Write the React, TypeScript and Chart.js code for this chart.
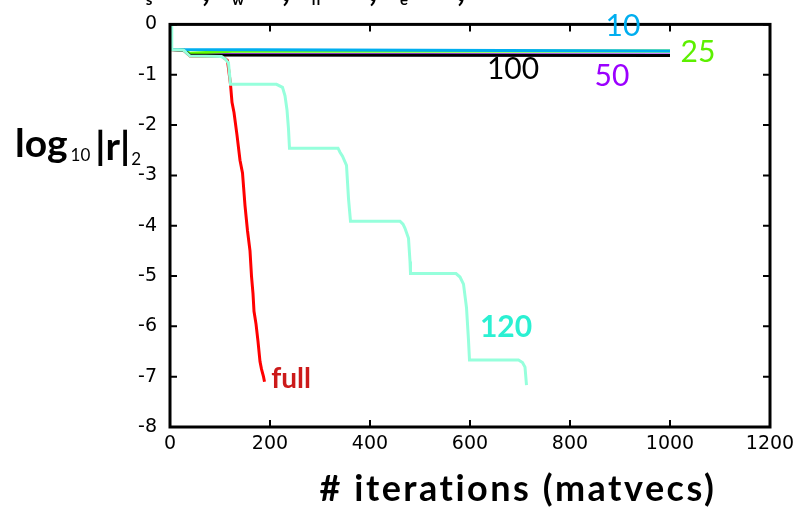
import React, { useEffect, useRef } from "react";
import { Chart, registerables } from "chart.js";
Chart.register(...registerables);

// ---- axis ticks ----
const xTicks = [0, 200, 400, 600, 800, 1000, 1200];
const yTicks = [0, -1, -2, -3, -4, -5, -6, -7, -8];

// ---- series (iterations / log10 residual) ----
const iter10 = [0, 3, 1000];
const res10 = [0, -0.5, -0.53];

const iter25 = [0, 3, 27, 40, 125, 1000];
const res25 = [0, -0.5, -0.51, -0.575, -0.535, -0.53];

const iter50 = [0, 3, 27, 40, 1000];
const res50 = [0, -0.5, -0.51, -0.6, -0.61];

const iter100 = [0, 3, 27, 40, 1000];
const res100 = [0, -0.5, -0.51, -0.61, -0.62];

const iter120 = [
  3, 3.5, 27, 40, 103, 110, 117, 121, 213, 225, 230, 234, 237, 239, 336, 340, 345, 353, 357, 361,
  460, 466, 470, 477, 480, 481, 572, 580, 587, 593, 597, 599, 697, 705, 710, 713,
];
const res120 = [
  0, -0.5, -0.51, -0.63, -0.64, -0.68, -0.77, -1.19, -1.19, -1.25, -1.42, -1.7, -2.08, -2.46, -2.46,
  -2.54, -2.62, -2.8, -3.46, -3.91, -3.91, -3.97, -4.05, -4.25, -4.71, -4.95, -4.95, -5.02, -5.16,
  -5.63, -6.28, -6.67, -6.67, -6.72, -6.81, -7.17,
];

const iterFull = [
  0, 3, 27, 40, 105, 115, 121, 124, 128, 134, 140, 145, 150, 155, 160, 163, 166, 168, 172, 176, 180,
  183, 187, 189,
];
const resFull = [
  0, -0.5, -0.51, -0.63, -0.64, -0.72, -1.19, -1.55, -1.75, -2.2, -2.7, -2.95, -3.6, -4.1, -4.5,
  -5.0, -5.35, -5.7, -5.95, -6.3, -6.7, -6.85, -7.0, -7.1,
];

// ---- curve labels ----
const labelTexts = ["10", "25", "100", "50", "120", "full"];
const labelIters = [906, 1056, 686, 884, 672, 242];
const labelRes = [-0.03, -0.55, -0.89, -1.04, -6.01, -7.05];
const labelColors = ["#00AEEF", "#5CF000", "#000000", "#9B00FF", "#2BF0D2", "#CC1A1A"];
const labelWeights = ["normal", "normal", "normal", "normal", "bold", "bold"];

const FONT = "Lato";
const TICK_FONT = "DejaVu Sans";

function pts(xs: number[], ys: number[]) {
  return xs.map((x, i) => ({ x, y: ys[i] }));
}

const framePlugin = {
  id: "frame",
  afterDatasetsDraw(chart: any) {
    const { ctx, chartArea: a, scales } = chart;
    const xs = scales.x;
    const ys = scales.y;
    ctx.save();
    ctx.strokeStyle = "#000";
    ctx.lineWidth = 2;
    const tl = 7;
    for (const v of xTicks) {
      const px = xs.getPixelForValue(v);
      ctx.beginPath();
      ctx.moveTo(px, a.bottom);
      ctx.lineTo(px, a.bottom - tl);
      ctx.moveTo(px, a.top);
      ctx.lineTo(px, a.top + tl);
      ctx.stroke();
    }
    for (const v of yTicks) {
      const py = ys.getPixelForValue(v);
      ctx.beginPath();
      ctx.moveTo(a.left, py);
      ctx.lineTo(a.left + tl, py);
      ctx.moveTo(a.right, py);
      ctx.lineTo(a.right - tl, py);
      ctx.stroke();
    }
    ctx.lineWidth = 3;
    ctx.strokeRect(a.left, a.top, a.right - a.left, a.bottom - a.top);

    // curve labels
    ctx.textAlign = "center";
    ctx.textBaseline = "middle";
    labelTexts.forEach((t, i) => {
      ctx.font = `${labelWeights[i]} ${t === "full" ? 28 : 30}px ${FONT}`;
      ctx.fillStyle = labelColors[i];
      ctx.fillText(t, xs.getPixelForValue(labelIters[i]), ys.getPixelForValue(labelRes[i]));
    });

    // x axis title
    ctx.fillStyle = "#000";
    ctx.font = `bold 36px ${FONT}`;
    ctx.textBaseline = "alphabetic";
    try {
      (ctx as any).letterSpacing = "2.5px";
    } catch (e) {}
    ctx.fillText("# iterations (matvecs)", 518, 501);
    try {
      (ctx as any).letterSpacing = "0px";
    } catch (e) {}

    // y axis title: log10|r|2
    ctx.textAlign = "left";
    let x = 15;
    ctx.font = `bold 39px ${FONT}`;
    ctx.fillText("log", x, 157);
    x += ctx.measureText("log").width + 3;
    ctx.font = `normal 17px ${FONT}`;
    ctx.fillText("10", x, 161);
    x += ctx.measureText("10").width + 5;
    ctx.font = `bold 39px ${FONT}`;
    ctx.fillText("|r|", x, 160);
    x += ctx.measureText("|r|").width + 1;
    ctx.font = `normal 17px ${FONT}`;
    ctx.fillText("2", x, 165);

    // clipped title fragments at the very top
    ctx.font = `bold 15px ${FONT}`;
    ctx.textAlign = "center";
    ctx.fillText("s", 149, 5);
    ctx.fillText("w", 238, 5);
    ctx.fillText("n", 316, 5);
    ctx.fillText("e", 404, 5);
    ctx.font = `bold 36px ${FONT}`;
    for (const cx of [206, 286, 373, 461]) ctx.fillText(",", cx, 1);
    ctx.restore();
  },
};

export default function App() {
  const ref = useRef<HTMLCanvasElement>(null);
  useEffect(() => {
    document.body.style.margin = "0";
    const ctx = ref.current!.getContext("2d")!;
    const common = { pointRadius: 0, borderWidth: 3, tension: 0, fill: false };
    const chart = new Chart(ctx, {
      type: "line",
      data: {
        datasets: [
          { ...common, label: "120", data: pts(iter120, res120), borderColor: "#96FFDC", order: 1 },
          { ...common, label: "10", data: pts(iter10, res10), borderColor: "#00AEEF", order: 2 },
          { ...common, label: "100", data: pts(iter100, res100), borderColor: "#000000", order: 3 },
          { ...common, label: "25", data: pts(iter25, res25), borderColor: "#66FF00", order: 4 },
          { ...common, label: "50", data: pts(iter50, res50), borderColor: "#9B00FF", order: 5 },
          { ...common, label: "full", data: pts(iterFull, resFull), borderColor: "#FF0000", order: 6 },
        ],
      },
      options: {
        responsive: false,
        animation: false,
        events: [],
        layout: { padding: { top: 21, right: 41, left: 0, bottom: 0 } },
        plugins: { legend: { display: false }, tooltip: { enabled: false }, title: { display: false } },
        scales: {
          x: {
            type: "linear",
            min: 0,
            max: 1200,
            grid: { display: false, drawTicks: false },
            border: { display: false },
            afterFit: (s: any) => {
              s.height = 83;
            },
            afterBuildTicks: (s: any) => {
              s.ticks = xTicks.map((v) => ({ value: v }));
            },
            ticks: {
              color: "#000",
              font: { family: TICK_FONT, size: 19 },
              padding: 6,
              maxRotation: 0,
              autoSkip: false,
              callback: (v: any) => String(v),
            },
          },
          y: {
            type: "linear",
            min: -8,
            max: 0,
            grid: { display: false, drawTicks: false },
            border: { display: false },
            afterFit: (s: any) => {
              s.width = 170;
            },
            afterBuildTicks: (s: any) => {
              s.ticks = yTicks.map((v) => ({ value: v }));
            },
            ticks: {
              color: "#000",
              font: { family: TICK_FONT, size: 19 },
              padding: 13,
              autoSkip: false,
              callback: (v: any) => String(v),
            },
          },
        },
      },
      plugins: [framePlugin],
    });
    return () => chart.destroy();
  }, []);
  return (
    <div style={{ position: "fixed", left: 0, top: 0, width: 811, height: 510 }}>
      <canvas ref={ref} width={811} height={510} style={{ display: "block", width: 811, height: 510 }} />
    </div>
  );
}
